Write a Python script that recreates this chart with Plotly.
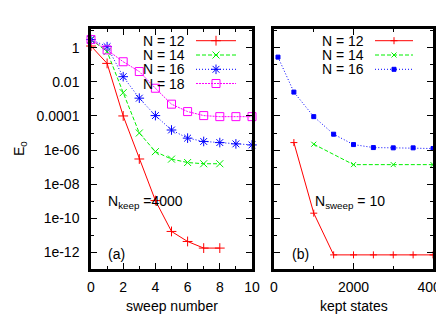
import plotly.graph_objects as go

# ---------------- data ----------------
sweep_12 = [0, 1, 2, 3, 4, 5, 6, 7, 8]
E_sweep_12 = [1.25, 0.12, 1.0e-4, 3.0e-7, 1.1e-9, 1.7e-11, 4.4e-12, 1.8e-12, 1.8e-12]
sweep_14 = [0, 1, 2, 3, 4, 5, 6, 7, 8]
E_sweep_14 = [3.0, 0.59, 2.3e-3, 1.0e-5, 8.1e-7, 2.95e-7, 1.86e-7, 1.58e-7, 1.58e-7]
sweep_16 = [0, 1, 2, 3, 4, 5, 6, 7, 8, 9, 10]
E_sweep_16 = [3.0, 1.15, 0.02, 1.1e-3, 1.05e-4, 1.5e-5, 5.0e-6, 3.2e-6, 2.75e-6, 2.3e-6, 2.0e-6]
sweep_18 = [0, 1, 2, 3, 4, 5, 6, 7, 8, 9, 10]
E_sweep_18 = [3.0, 0.74, 0.15, 0.04, 4.2e-3, 4.9e-4, 1.8e-4, 1.05e-4, 9.1e-5, 9.1e-5, 9.1e-5]

kept_12 = [500, 1000, 1500, 2000, 2500, 3000, 3500, 4000]
E_kept_12 = [2.75e-6, 2.0e-10, 7.2e-13, 7.2e-13, 7.2e-13, 7.2e-13, 7.2e-13, 7.2e-13]
kept_14 = [1000, 2000, 3000, 4000]
E_kept_14 = [2.2e-6, 1.4e-7, 1.4e-7, 1.4e-7]
kept_16 = [100, 500, 1000, 1500, 2000, 2500, 3000, 3500, 4000]
E_kept_16 = [0.28, 2.5e-3, 9.1e-5, 8.5e-6, 2.1e-6, 1.4e-6, 1.35e-6, 1.35e-6, 1.23e-6]

series_names = ["N = 12", "N = 14", "N = 16", "N = 18"]
ytick_vals = [1, 1e-2, 1e-4, 1e-6, 1e-8, 1e-10, 1e-12]
ytick_text = ["1", "0.01", "0.0001", "1e-06", "1e-08", "1e-10", "1e-12"]
yminor_vals = [1e1, 1e-1, 1e-3, 1e-5, 1e-7, 1e-9, 1e-11, 1e-13]

# ---------------- styles ----------------
FONT = "Liberation Sans, Arial, Helvetica, sans-serif"
colors = ["#ff0000", "#00f000", "#0000ff", "#ff00ff"]
dashes = ["solid", "4px,2px", "1px,2px", "2px,1px"]
big_symbols = ["cross-thin", "x-thin", "asterisk", "square-open"]
big_sizes = [7, 7, 8, 8]
small_symbols = ["cross-thin", "x-thin", "square"]
small_sizes = [5, 5, 4]

# plot area in pixels
L, R, T, B = 91, 3, 29, 48
W, H = 436, 317
PW, PH = W - L - R, H - T - B


def px(x):
    return (x - L) / PW


def py(y):
    return (H - B - y) / PH


fig = go.Figure()

left = [(sweep_12, E_sweep_12), (sweep_14, E_sweep_14), (sweep_16, E_sweep_16), (sweep_18, E_sweep_18)]
for i, (xs, ys) in enumerate(left):
    fig.add_trace(go.Scatter(
        x=xs, y=ys, mode="lines+markers", name=series_names[i], showlegend=False,
        line=dict(color=colors[i], width=1, dash=dashes[i]),
        marker=dict(symbol=big_symbols[i], size=big_sizes[i], color=colors[i],
                    line=dict(color=colors[i], width=1)),
        cliponaxis=False, xaxis="x", yaxis="y"))

right = [(kept_12, E_kept_12), (kept_14, E_kept_14), (kept_16, E_kept_16)]
for i, (xs, ys) in enumerate(right):
    fig.add_trace(go.Scatter(
        x=xs, y=ys, mode="lines+markers", name=series_names[i], showlegend=False,
        line=dict(color=colors[i], width=1, dash=dashes[i]),
        marker=dict(symbol=small_symbols[i], size=small_sizes[i], color=colors[i],
                    line=dict(color=colors[i], width=1)),
        cliponaxis=False, xaxis="x2", yaxis="y2"))

# ---------------- manual gnuplot-style legends ----------------
annotations = []
shapes = []
legend_rows = [40.7, 55.0, 69.3, 83.5]


def add_legend(n, text_right, line_x0, line_x1, symbols, sizes):
    for i in range(n):
        yy = py(legend_rows[i])
        annotations.append(dict(
            x=px(text_right), y=yy, xref="paper", yref="paper", text=series_names[i],
            showarrow=False, xanchor="right", yanchor="middle",
            font=dict(family=FONT, size=14, color="black")))
        shapes.append(dict(
            type="line", xref="paper", yref="paper", x0=px(line_x0), x1=px(line_x1),
            y0=yy, y1=yy, line=dict(color=colors[i], width=1, dash=dashes[i])))
        fig.add_trace(go.Scatter(
            x=[px((line_x0 + line_x1) / 2)], y=[yy], mode="markers", showlegend=False,
            marker=dict(symbol=symbols[i], size=sizes[i], color=colors[i],
                        line=dict(color=colors[i], width=1)),
            cliponaxis=False, xaxis="x3", yaxis="y3", hoverinfo="skip"))


add_legend(4, 187, 196, 236, big_symbols, big_sizes)
add_legend(3, 366, 375, 413, small_symbols, small_sizes)

# ---------------- texts ----------------
def txt(text, x, y, xanchor="left", size=14, angle=0):
    annotations.append(dict(
        x=px(x), y=py(y), xref="paper", yref="paper", text=text, showarrow=False,
        xanchor=xanchor, yanchor="middle", textangle=angle,
        font=dict(family=FONT, size=size, color="black")))


txt("N<sub>keep</sub> =4000", 106, 202)
txt("N<sub>sweep</sub> = 10", 313, 202)
txt("(a)", 106, 254)
txt("(b)", 290, 254)
txt("sweep number", 172, 306, xanchor="center")
txt("kept states", 353.5, 306, xanchor="center")
txt("E<sub>0</sub>", 20, 149, xanchor="center", angle=-90)

split_left = px(252)
split_right = px(274)

axis_common = dict(
    showline=True, linewidth=2.5, linecolor="black", mirror="allticks",
    ticks="inside", ticklen=6, tickwidth=1.2, tickcolor="black",
    showgrid=False, zeroline=False, automargin=False, ticklabeloverflow="allow",
    tickfont=dict(family=FONT, size=14, color="black"),
)

yrange = [-12.97, 1.095]

fig.update_layout(
    width=W, height=H,
    margin=dict(l=L, r=R, t=T, b=B, autoexpand=False),
    paper_bgcolor="white", plot_bgcolor="rgba(0,0,0,0)",
    showlegend=False,
    font=dict(family=FONT, size=14, color="black"),
    xaxis=dict(domain=[0, split_left], range=[0, 10], tickmode="array",
               tickvals=[0, 2, 4, 6, 8, 10], anchor="y", ticklabelstandoff=3,
               minor=dict(tickvals=[1, 3, 5, 7, 9], ticklen=3, ticks="inside", tickcolor="black"),
               **axis_common),
    yaxis=dict(domain=[0, 1], type="log", range=yrange, tickmode="array",
               tickvals=ytick_vals, ticktext=ytick_text, anchor="x", ticklabelstandoff=6,
               minor=dict(tickvals=yminor_vals, ticklen=3, ticks="inside", tickcolor="black"),
               **axis_common),
    xaxis2=dict(domain=[split_right, 1], range=[0, 4000], tickmode="array",
                tickvals=[0, 2000, 4000], anchor="y2", ticklabelstandoff=3,
                minor=dict(tickvals=[1000, 3000], ticklen=3, ticks="inside", tickcolor="black"),
                **axis_common),
    yaxis2=dict(domain=[0, 1], type="log", range=yrange, tickmode="array",
                tickvals=ytick_vals, ticktext=ytick_text, anchor="x2", showticklabels=False,
                minor=dict(tickvals=yminor_vals, ticklen=3, ticks="inside", tickcolor="black"),
                **axis_common),
    xaxis3=dict(domain=[0, 1], range=[0, 1], visible=False, anchor="y3", fixedrange=True),
    yaxis3=dict(domain=[0, 1], range=[0, 1], visible=False, anchor="x3", fixedrange=True),
    annotations=annotations,
    shapes=shapes,
)

fig.write_html("out.html", config={"displayModeBar": False},
               post_script="document.body.style.margin='0';")
